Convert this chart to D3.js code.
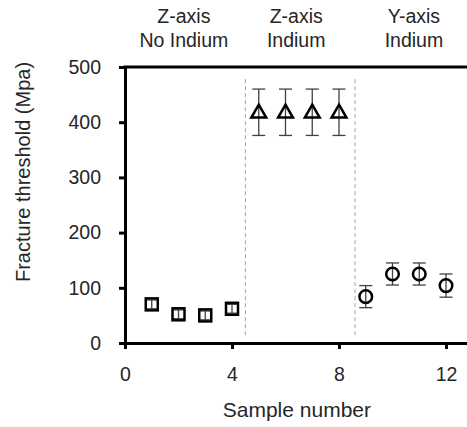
<!DOCTYPE html>
<html>
<head>
<meta charset="utf-8">
<script src="https://cdn.jsdelivr.net/npm/d3@7"></script>
<style>
  body { margin: 0; background: #fff; }
  text { font-family: "Liberation Sans", Arial, sans-serif; fill: #262626; }
</style>
</head>
<body>
<svg id="vis"></svg>
<script>
// data
const noIndiumX = [1, 2, 3, 4];
const noIndiumY = [70, 52, 50, 62];
const noIndiumErr = [8, 8, 8, 8];

const zIndiumX = [5, 6, 7, 8];
const zIndiumY = [418, 418, 418, 418];
const zIndiumErr = [42, 42, 42, 42];

const yIndiumX = [9, 10, 11, 12];
const yIndiumY = [84, 125, 125, 104];
const yIndiumErr = [20, 20, 20, 21];

const xTicks = [0, 4, 8, 12];
const yTicks = [0, 100, 200, 300, 400, 500];
const dividers = [4.5, 8.6];
const groupLabels = [["Z-axis", "No Indium"], ["Z-axis", "Indium"], ["Y-axis", "Indium"]];
const groupCentres = [2.2, 6.4, 10.8];

const W = 467, H = 427;
const MARGINS = {top: 67, left: 125, bottom: 84};

let svg = d3.select("#vis").attr("width", W).attr("height", H);

let x = d3.scaleLinear().domain([0, 13]).range([MARGINS.left, MARGINS.left + 13 * 26.75]);
let y = d3.scaleLinear().domain([0, 500]).range([H - MARGINS.bottom, MARGINS.top]);

// dashed group dividers
svg.selectAll(".divider")
    .data(dividers)
    .enter()
    .append("line")
    .attr("x1", d => x(d)).attr("x2", d => x(d))
    .attr("y1", y(478)).attr("y2", y(10))
    .attr("stroke", "#a6a6a6")
    .attr("stroke-width", 1)
    .attr("stroke-dasharray", "4,3");

// axes
let yAxis = svg.append("g")
    .attr("transform", "translate(" + x(0) + ",0)")
    .call(d3.axisLeft(y).tickValues(yTicks).tickSizeInner(6).tickSizeOuter(0).tickPadding(18));
let xAxis = svg.append("g")
    .attr("transform", "translate(0," + y(0) + ")")
    .call(d3.axisBottom(x).tickValues(xTicks).tickSizeInner(6).tickSizeOuter(0).tickPadding(18));

[xAxis, yAxis].forEach(function(a){
    a.select(".domain").attr("stroke", "#000").attr("stroke-width", 3);
    a.selectAll(".tick line").attr("stroke", "#000").attr("stroke-width", 3);
    a.selectAll(".tick text").style("font-size", "19.5px").attr("fill", "#262626");
});

// top border
svg.append("line")
    .attr("x1", x(0) - 1.5).attr("x2", x(13))
    .attr("y1", y(500)).attr("y2", y(500))
    .attr("stroke", "#000")
    .attr("stroke-width", 3);

function errorBars(xs, ys, errs){
    let g = svg.append("g");
    xs.forEach(function(xv, i){
        let top = y(ys[i] + errs[i]), bot = y(ys[i] - errs[i]), cx = x(xv);
        g.append("line").attr("x1", cx).attr("x2", cx).attr("y1", top).attr("y2", bot);
        g.append("line").attr("x1", cx - 6.5).attr("x2", cx + 6.5).attr("y1", top).attr("y2", top);
        g.append("line").attr("x1", cx - 6.5).attr("x2", cx + 6.5).attr("y1", bot).attr("y2", bot);
    });
    g.selectAll("line").attr("stroke", "#404040").attr("stroke-width", 1.3);
}

errorBars(noIndiumX, noIndiumY, noIndiumErr);
errorBars(zIndiumX, zIndiumY, zIndiumErr);
errorBars(yIndiumX, yIndiumY, yIndiumErr);

// squares
svg.selectAll(".sq")
    .data(noIndiumX)
    .enter()
    .append("rect")
    .attr("x", (d, i) => x(d) - 6)
    .attr("y", (d, i) => y(noIndiumY[i]) - 6)
    .attr("width", 12).attr("height", 12)
    .attr("fill", "none")
    .attr("stroke", "#000")
    .attr("stroke-width", 2.5);

// triangles
svg.selectAll(".tri")
    .data(zIndiumX)
    .enter()
    .append("path")
    .attr("d", d3.symbol().type(d3.symbolTriangle).size(95))
    .attr("transform", (d, i) => "translate(" + x(d) + "," + (y(zIndiumY[i]) + 1) + ")")
    .attr("fill", "none")
    .attr("stroke", "#000")
    .attr("stroke-width", 2.5);

// circles
svg.selectAll(".circ")
    .data(yIndiumX)
    .enter()
    .append("circle")
    .attr("cx", d => x(d))
    .attr("cy", (d, i) => y(yIndiumY[i]))
    .attr("r", 6.3)
    .attr("fill", "none")
    .attr("stroke", "#000")
    .attr("stroke-width", 2.5);

// group headers
groupLabels.forEach(function(lines, i){
    let t = svg.append("text")
        .attr("text-anchor", "middle")
        .style("font-size", "19.5px");
    lines.forEach(function(s, j){
        t.append("tspan")
            .attr("x", x(groupCentres[i]))
            .attr("y", 23 + j * 24)
            .text(s);
    });
});

// axis titles
svg.append("text")
    .attr("x", x(6.5) - 2)
    .attr("y", 417)
    .attr("text-anchor", "middle")
    .style("font-size", "21px")
    .text("Sample number");

svg.append("text")
    .attr("transform", "translate(30,172) rotate(-90)")
    .attr("text-anchor", "middle")
    .style("font-size", "20px")
    .text("Fracture threshold (Mpa)");
</script>
</body>
</html>
